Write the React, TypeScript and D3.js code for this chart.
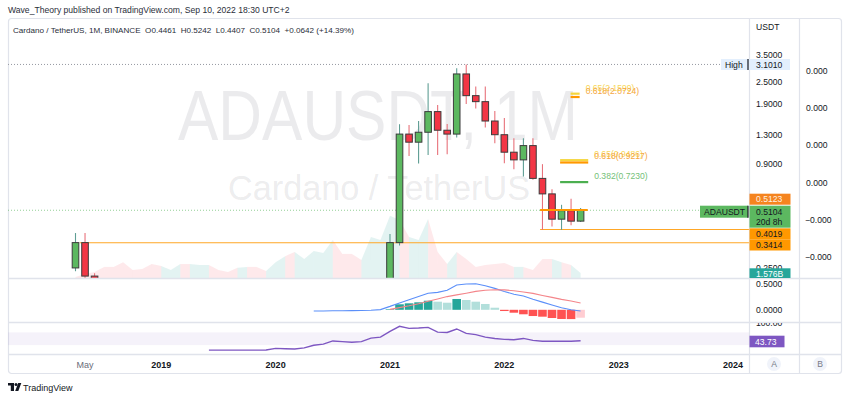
import React from "react";
import * as d3 from "d3";

// ---------- DATA (month index 0 = Apr 2018, monthly candles ADA/USDT) ----------
const opens = [0.25, 0.342, 0.226, 0.148, 0.135, 0.1, 0.075, 0.073, 0.042, 0.041, 0.04, 0.044, 0.07, 0.068, 0.087, 0.088, 0.061, 0.048, 0.039, 0.04, 0.036, 0.033, 0.053, 0.058, 0.03, 0.048, 0.053, 0.08, 0.132, 0.112, 0.102, 0.095, 0.16, 0.181, 0.342, 1.31, 1.185, 1.34, 1.73, 1.374, 1.31, 2.757, 2.108, 1.957, 1.54, 1.3, 1.047, 0.952, 1.136, 0.757, 0.625, 0.457, 0.508, 0.4461];
const highs = [0.385, 0.385, 0.234, 0.19, 0.14, 0.1, 0.085, 0.078, 0.05, 0.052, 0.053, 0.071, 0.094, 0.098, 0.11, 0.091, 0.064, 0.061, 0.046, 0.047, 0.038, 0.058, 0.08, 0.06, 0.052, 0.057, 0.098, 0.14, 0.16, 0.116, 0.11, 0.18, 0.19, 0.38, 1.48, 1.467, 1.54, 2.46, 1.88, 1.486, 2.96, 3.101, 2.36, 2.36, 1.745, 1.6, 1.245, 1.245, 1.245, 0.903, 0.662, 0.546, 0.588, 0.5242];
const lows = [0.24, 0.2, 0.11, 0.13, 0.086, 0.068, 0.07, 0.034, 0.027, 0.037, 0.038, 0.043, 0.061, 0.06, 0.081, 0.058, 0.042, 0.035, 0.033, 0.034, 0.031, 0.033, 0.05, 0.017, 0.029, 0.043, 0.052, 0.075, 0.1, 0.076, 0.088, 0.085, 0.13, 0.17, 0.33, 1.0, 0.91, 1.01, 1.01, 1.02, 1.254, 1.9, 1.8, 1.42, 1.17, 0.914, 0.848, 0.774, 0.745, 0.4, 0.417, 0.4, 0.424, 0.4407];
const closes = [0.342, 0.226, 0.148, 0.135, 0.1, 0.075, 0.073, 0.042, 0.041, 0.04, 0.044, 0.07, 0.068, 0.087, 0.088, 0.061, 0.048, 0.039, 0.04, 0.036, 0.033, 0.053, 0.058, 0.03, 0.048, 0.053, 0.08, 0.132, 0.112, 0.102, 0.095, 0.16, 0.181, 0.342, 1.31, 1.185, 1.34, 1.73, 1.374, 1.31, 2.757, 2.108, 1.957, 1.54, 1.3, 1.047, 0.952, 1.136, 0.757, 0.625, 0.457, 0.508, 0.446, 0.5104];
const volumesB = [0.3, 1.3, 1.9, 3.5, 3.5, 5.0, 2.5, 2.8, 4.4, 3.8, 2.5, 4.4, 4.4, 4.1, 4.1, 2.5, 1.9, 3.2, 3.5, 3.5, 2.2, 5.0, 6.9, 8.2, 6.0, 8.5, 7.9, 12.0, 7.6, 7.6, 5.7, 12.9, 12.0, 19.6, 18.3, 12.9, 12.0, 18.6, 8.2, 4.4, 8.2, 6.0, 3.5, 4.1, 4.4, 4.7, 3.5, 3.5, 2.5, 6.0, 6.0, 5.0, 4.1, 1.576];

const macdStart = 25; // May 2020
const macdLine = [-0.024, -0.024, -0.02, -0.018, -0.016, -0.014, -0.01, 0.004, 0.067, 0.135, 0.198, 0.261, 0.324, 0.341, 0.382, 0.486, 0.506, 0.51, 0.47, 0.42, 0.36, 0.306, 0.269, 0.206, 0.151, 0.094, 0.039, 0.0, -0.024];
const signalStart = 33; // Jan 2021
const signalLine = [0.008, 0.043, 0.078, 0.12, 0.167, 0.212, 0.259, 0.292, 0.325, 0.361, 0.382, 0.394, 0.39, 0.373, 0.349, 0.322, 0.282, 0.243, 0.204, 0.171, 0.133];
const histogram = [0.01, 0.108, 0.127, 0.147, 0.178, 0.159, 0.139, 0.212, 0.192, 0.159, 0.114, 0.041, -0.024, -0.057, -0.088, -0.122, -0.135, -0.161, -0.18, -0.182, -0.155];

const rsiStart = 14; // Jun 2019
const rsiValues = [14, 14, 14, 14, 14, 14, 14.3, 19.4, 18.4, 17.5, 21, 29.5, 33, 43, 41, 39, 41, 52, 55, 73.6, 89.5, 83, 84, 86, 71, 70, 81, 67, 63, 55, 51, 48, 47, 51, 45, 42, 42, 42.5, 42, 43.73];

const priceTicks = [3.5, 2.5, 1.9, 1.3, 0.9, 0.25];
const macdTicks = [0.5, 0];
const rightAxisLabels = ["0.000", "0.000", "0.000", "0.000", "\u22120.000", "\u22120.000"];
const timeTickLabels = ["May", "2019", "2020", "2021", "2022", "2023", "2024"];
const timeTickIndex = [1, 9, 21, 33, 45, 57, 69];

// Fibonacci annotation levels
const fibLabels = ["0.65(2.1599)", "0.618(2.0724)", "0.65(0.9486)", "0.618(0.9217)", "0.382(0.7230)"];
const fibPrices = [2.1599, 2.0724, 0.9486, 0.9217, 0.723];
const fibColors = ["#f5d63d", "#ff9800", "#f5d63d", "#ff9800", "#4caf50"];
const fibTextColors = ["#f7d75a", "#f5a742", "#f7d75a", "#f5a742", "#74c178"];
const fibFrom = [51.95, 51.95, 50.85, 50.85, 50.85];
const fibTo = [52.9, 52.9, 53.8, 53.8, 53.8];

const FONT = "'Liberation Sans', Arial, Helvetica, sans-serif";

export default function App() {
  const L = 8, R = 749, AX2 = 799, RR = 842;
  const TOP = 18, MAIN_B = 278, MACD_B = 322, RSI_B = 354, TIME_B = 373;

  const x = d3.scaleLinear().domain([0, 53]).range([75.5, 75.5 + 53 * 9.53]);
  const y = d3.scaleLog().domain([0.2207, 5.51]).range([MAIN_B, TOP]);
  const yVol = d3.scaleLinear().domain([0, 20]).range([MAIN_B, MAIN_B - 63.4]);
  const yMacd = d3.scaleLinear().domain([0, 0.5]).range([309.8, 284.3]);
  const yRsi = d3.scaleLinear().domain([0, 100]).range([354.5, 323]);

  const up = (i: number) => closes[i] >= opens[i];

  const macdPath = d3.line<number>().x((_, i) => x(i + macdStart)).y((d) => yMacd(d))(macdLine) || "";
  const sigPath = d3.line<number>().x((_, i) => x(i + signalStart)).y((d) => yMacd(d))(signalLine) || "";
  const rsiPath = d3.line<number>().x((_, i) => x(i + rsiStart)).y((d) => yRsi(d))(rsiValues) || "";

  const histColor = (i: number) => {
    const v = histogram[i];
    const prev = i > 0 ? histogram[i - 1] : 0;
    if (v >= 0) return v >= prev ? "#26a69a" : "#b2dfdb";
    return v < prev ? "#ff5252" : "#ffcdd2";
  };

  const cw = 6.6;
  const lastIdx = closes.length - 1;
  const lastPrice = closes[lastIdx];
  const highPrice = d3.max(highs) as number;

  const axisText = { fontFamily: FONT, fontSize: 8.6, fill: "#131722" } as const;

  return (
    <svg width={850} height={399} style={{ position: "fixed", left: 0, top: 0, background: "#fff" }} xmlns="http://www.w3.org/2000/svg">
      <defs>
        <clipPath id="mainClip"><rect x={L} y={TOP} width={R - L} height={MAIN_B - TOP} /></clipPath>
        <clipPath id="macdClip"><rect x={L} y={MAIN_B} width={R - L} height={MACD_B - MAIN_B} /></clipPath>
        <clipPath id="rsiClip"><rect x={L} y={MACD_B} width={R - L} height={RSI_B - MACD_B} /></clipPath>
        <clipPath id="axMain"><rect x={R} y={TOP} width={AX2 - R} height={MAIN_B - TOP} /></clipPath>
        <clipPath id="axMacd"><rect x={R} y={MAIN_B + 0.5} width={AX2 - R} height={MACD_B - MAIN_B - 0.5} /></clipPath>
        <clipPath id="axRsi"><rect x={R} y={MACD_B + 1} width={AX2 - R} height={RSI_B - MACD_B - 1} /></clipPath>
      </defs>
      <rect x={0} y={0} width={850} height={399} fill="#ffffff" />

      {/* publisher line */}
      <text x={8} y={13} fontFamily={FONT} fontSize={8.6} fill="#2a2e39">Wave_Theory published on TradingView.com, Sep 10, 2022 18:30 UTC+2</text>

      {/* frame */}
      <rect x={L + 0.5} y={TOP + 0.5} width={RR - L - 1} height={TIME_B - TOP} rx={3} fill="none" stroke="#e0e3eb" strokeWidth={1.2} />

      {/* MAIN PANE */}
      <g clipPath="url(#mainClip)">
        {/* watermark */}
        <text x={378} y={140} textAnchor="middle" fontFamily={FONT} fontSize={70} fill="#787b86" fillOpacity={0.15} textLength={400} lengthAdjust="spacingAndGlyphs">ADAUSDT, 1M</text>
        <text x={379} y={200} textAnchor="middle" fontFamily={FONT} fontSize={35} fill="#787b86" fillOpacity={0.15} textLength={302} lengthAdjust="spacingAndGlyphs">Cardano / TetherUS</text>

        {/* volume area */}
        {volumesB.map((v, i) => {
          if (i === 0) return null;
          const pts = [
            [x(i - 1), yVol(volumesB[i - 1])],
            [x(i), yVol(v)],
            [x(i), yVol(0)],
            [x(i - 1), yVol(0)],
          ];
          return (
            <polygon key={"v" + i} points={pts.map((p) => p.join(",")).join(" ")}
              fill={up(i) ? "rgba(38,166,154,0.13)" : "rgba(242,54,69,0.11)"} />
          );
        })}

        {/* high dotted line */}
        <line x1={L} x2={721} y1={y(highPrice)} y2={y(highPrice)} stroke="#9598a1" strokeWidth={1} strokeDasharray="1 2" />
        {/* current price dotted line */}
        <line x1={L} x2={700} y1={y(lastPrice)} y2={y(lastPrice)} stroke="#4caf50" strokeOpacity={0.6} strokeWidth={1} strokeDasharray="1 2" />

        {/* horizontal orange levels */}
        <line x1={x(0.45)} x2={R} y1={y(0.3414)} y2={y(0.3414)} stroke="#ffa726" strokeWidth={1.1} />
        <line x1={x(48.75)} x2={R} y1={y(0.4019)} y2={y(0.4019)} stroke="#ffa726" strokeWidth={1.1} />

        {/* candles */}
        {closes.map((c, i) => {
          const o = opens[i];
          const isUp = c >= o;
          const top = y(Math.max(o, c));
          const bot = y(Math.min(o, c));
          const cx = x(i);
          return (
            <g key={"c" + i}>
              <line x1={cx} x2={cx} y1={y(highs[i])} y2={y(lows[i])} stroke={isUp ? "#5f9e94" : "#e8727b"} strokeWidth={1.1} />
              <rect x={cx - cw / 2} y={top} width={cw} height={Math.max(1, bot - top)}
                fill={isUp ? "#5cb860" : "#f23645"} stroke="#3b3b3b" strokeWidth={1} />
            </g>
          );
        })}

        <line x1={x(48.75)} x2={x(53.75)} y1={y(0.5123)} y2={y(0.5123)} stroke="#ff9800" strokeWidth={2} />

        {/* fib levels */}
        {fibPrices.map((p, i) => (
          <g key={"f" + i}>
            <line x1={x(fibFrom[i])} x2={x(fibTo[i])} y1={y(p)} y2={y(p)} stroke={fibColors[i]} strokeWidth={2.2} />
          </g>
        ))}
        {fibPrices.map((p, i) => (
          <text key={"ft" + i} x={x(fibTo[i]) + 6} y={y(p) - 3} fontFamily={FONT} fontSize={8.6} fill={fibTextColors[i]}>{fibLabels[i]}</text>
        ))}
      </g>

      {/* MACD PANE */}
      <g clipPath="url(#macdClip)">
        {histogram.map((h, i) => {
          const cx = x(i + signalStart);
          const y0 = yMacd(0), y1 = yMacd(h);
          return <rect key={"h" + i} x={cx - 4.3} y={Math.min(y0, y1)} width={8.6} height={Math.max(0.6, Math.abs(y1 - y0))} fill={histColor(i)} />;
        })}
        <path d={macdPath} fill="none" stroke="#5b8ff9" strokeWidth={1.1} />
        <path d={sigPath} fill="none" stroke="#f4858a" strokeWidth={1.1} />
      </g>

      {/* RSI PANE */}
      <g clipPath="url(#rsiClip)">
        <rect x={L} y={yRsi(70)} width={R - L} height={yRsi(30) - yRsi(70)} fill="#7e57c2" fillOpacity={0.08} />
        <path d={rsiPath} fill="none" stroke="#7e57c2" strokeWidth={1.4} />
      </g>

      {/* separators */}
      <line x1={R + 0.5} x2={R + 0.5} y1={TOP} y2={TIME_B} stroke="#e0e3eb" strokeWidth={1.2} />
      <line x1={AX2 + 0.5} x2={AX2 + 0.5} y1={TOP} y2={TIME_B} stroke="#e0e3eb" strokeWidth={1.2} />
      <line x1={L} x2={RR} y1={MAIN_B + 0.5} y2={MAIN_B + 0.5} stroke="#e0e3eb" strokeWidth={1.6} />
      <line x1={L} x2={RR} y1={MACD_B + 0.5} y2={MACD_B + 0.5} stroke="#e0e3eb" strokeWidth={1.6} />
      <line x1={L} x2={RR} y1={RSI_B + 0.5} y2={RSI_B + 0.5} stroke="#e0e3eb" strokeWidth={1.6} />

      {/* legend line */}
      <text x={13} y={33} fontFamily={FONT} fontSize={8.1} fill="#2a2e39" xmlSpace="preserve">Cardano / TetherUS, 1M, BINANCE  O0.4461  H0.5242  L0.4407  C0.5104  +0.0642 (+14.39%)</text>

      {/* price axis */}
      <text x={756} y={30} {...axisText}>USDT</text>
      <g clipPath="url(#axMain)">
        {priceTicks.map((p) => (
          <text key={"pt" + p} x={756} y={y(p) + 3} {...axisText}>{p.toFixed(4)}</text>
        ))}
        {/* volume label */}
        <rect x={R + 0.5} y={268.3} width={41} height={11} fill="#26a69a" />
        <text x={756} y={276.5} {...axisText} fill="#ffffff">1.576B</text>
      </g>

      {/* High label */}
      <rect x={721} y={59} width={69} height={11} fill="#e3effd" />
      <line x1={748} x2={748} y1={59} y2={70} stroke="#131722" strokeWidth={1.2} />
      <text x={725} y={67.5} {...axisText}>High</text>
      <text x={756} y={67.5} {...axisText}>{highPrice.toFixed(4)}</text>

      {/* orange labels */}
      <rect x={R + 0.5} y={193.7} width={41} height={11} fill="#f5841f" />
      <text x={756} y={202.3} {...axisText} fill="#fff1e0">0.5123</text>
      <rect x={R + 0.5} y={228.3} width={41} height={11} fill="#ff9800" />
      <text x={756} y={236.9} {...axisText}>0.4019</text>
      <rect x={R + 0.5} y={239.3} width={41} height={11.2} fill="#ff9800" />
      <text x={756} y={248} {...axisText}>0.3414</text>

      {/* current price labels */}
      <rect x={700} y={205.7} width={48} height={12} fill="#5cb860" />
      <line x1={748} x2={748} y1={205.7} y2={217.7} stroke="#131722" strokeWidth={1.2} />
      <text x={704} y={214.8} {...axisText}>ADAUSDT</text>
      <rect x={R + 0.5} y={205.7} width={41} height={22} fill="#5cb860" />
      <text x={756} y={214.8} {...axisText}>{lastPrice.toFixed(4)}</text>
      <text x={756} y={224.5} {...axisText}>20d 8h</text>

      {/* second axis */}
      {rightAxisLabels.map((t, i) => (
        <text key={"ra" + i} x={t.startsWith("0") ? 806 : 805} y={71 + i * 37.2 + 3} {...axisText} fill="#131722">{t}</text>
      ))}

      {/* MACD axis */}
      <g clipPath="url(#axMacd)">
        {macdTicks.map((t) => (
          <text key={"m" + t} x={756} y={yMacd(t) + 3} {...axisText}>{t.toFixed(4)}</text>
        ))}
      </g>

      {/* RSI axis */}
      <g clipPath="url(#axRsi)">
        <text x={756} y={yRsi(100) + 3} {...axisText}>100.00</text>
      </g>
      <rect x={R + 0.5} y={335.7} width={35} height={11.6} fill="#7e57c2" />
      <text x={755} y={344.5} {...axisText} fill="#ffffff">{rsiValues[rsiValues.length - 1].toFixed(2)}</text>

      {/* time axis */}
      {timeTickLabels.map((t, i) => (
        <text key={"t" + t} x={x(timeTickIndex[i])} y={367.5} textAnchor="middle" fontFamily={FONT}
          fontSize={9} fontWeight={t === "May" ? 400 : 700} fill={t === "May" ? "#6a6d78" : "#131722"}>{t}</text>
      ))}
      <circle cx={774} cy={364} r={7} fill="#f0f3fa" />
      <text x={774} y={367.2} textAnchor="middle" fontFamily={FONT} fontSize={8.6} fill="#787b86">A</text>
      <circle cx={820} cy={364} r={7} fill="#f0f3fa" />
      <text x={820} y={367.2} textAnchor="middle" fontFamily={FONT} fontSize={8.6} fill="#787b86">B</text>

      {/* TradingView logo */}
      <g fill="#131722">
        <rect x={8} y={383} width={6} height={2.5} />
        <rect x={10.8} y={383} width={3.2} height={8} />
        <circle cx={16} cy={384.4} r={1.5} />
        <polygon points="18.2,383 21.3,383 18.3,391 15.2,391" />
      </g>
      <text x={23} y={390.5} fontFamily={FONT} fontSize={9} fill="#131722">TradingView</text>
    </svg>
  );
}
